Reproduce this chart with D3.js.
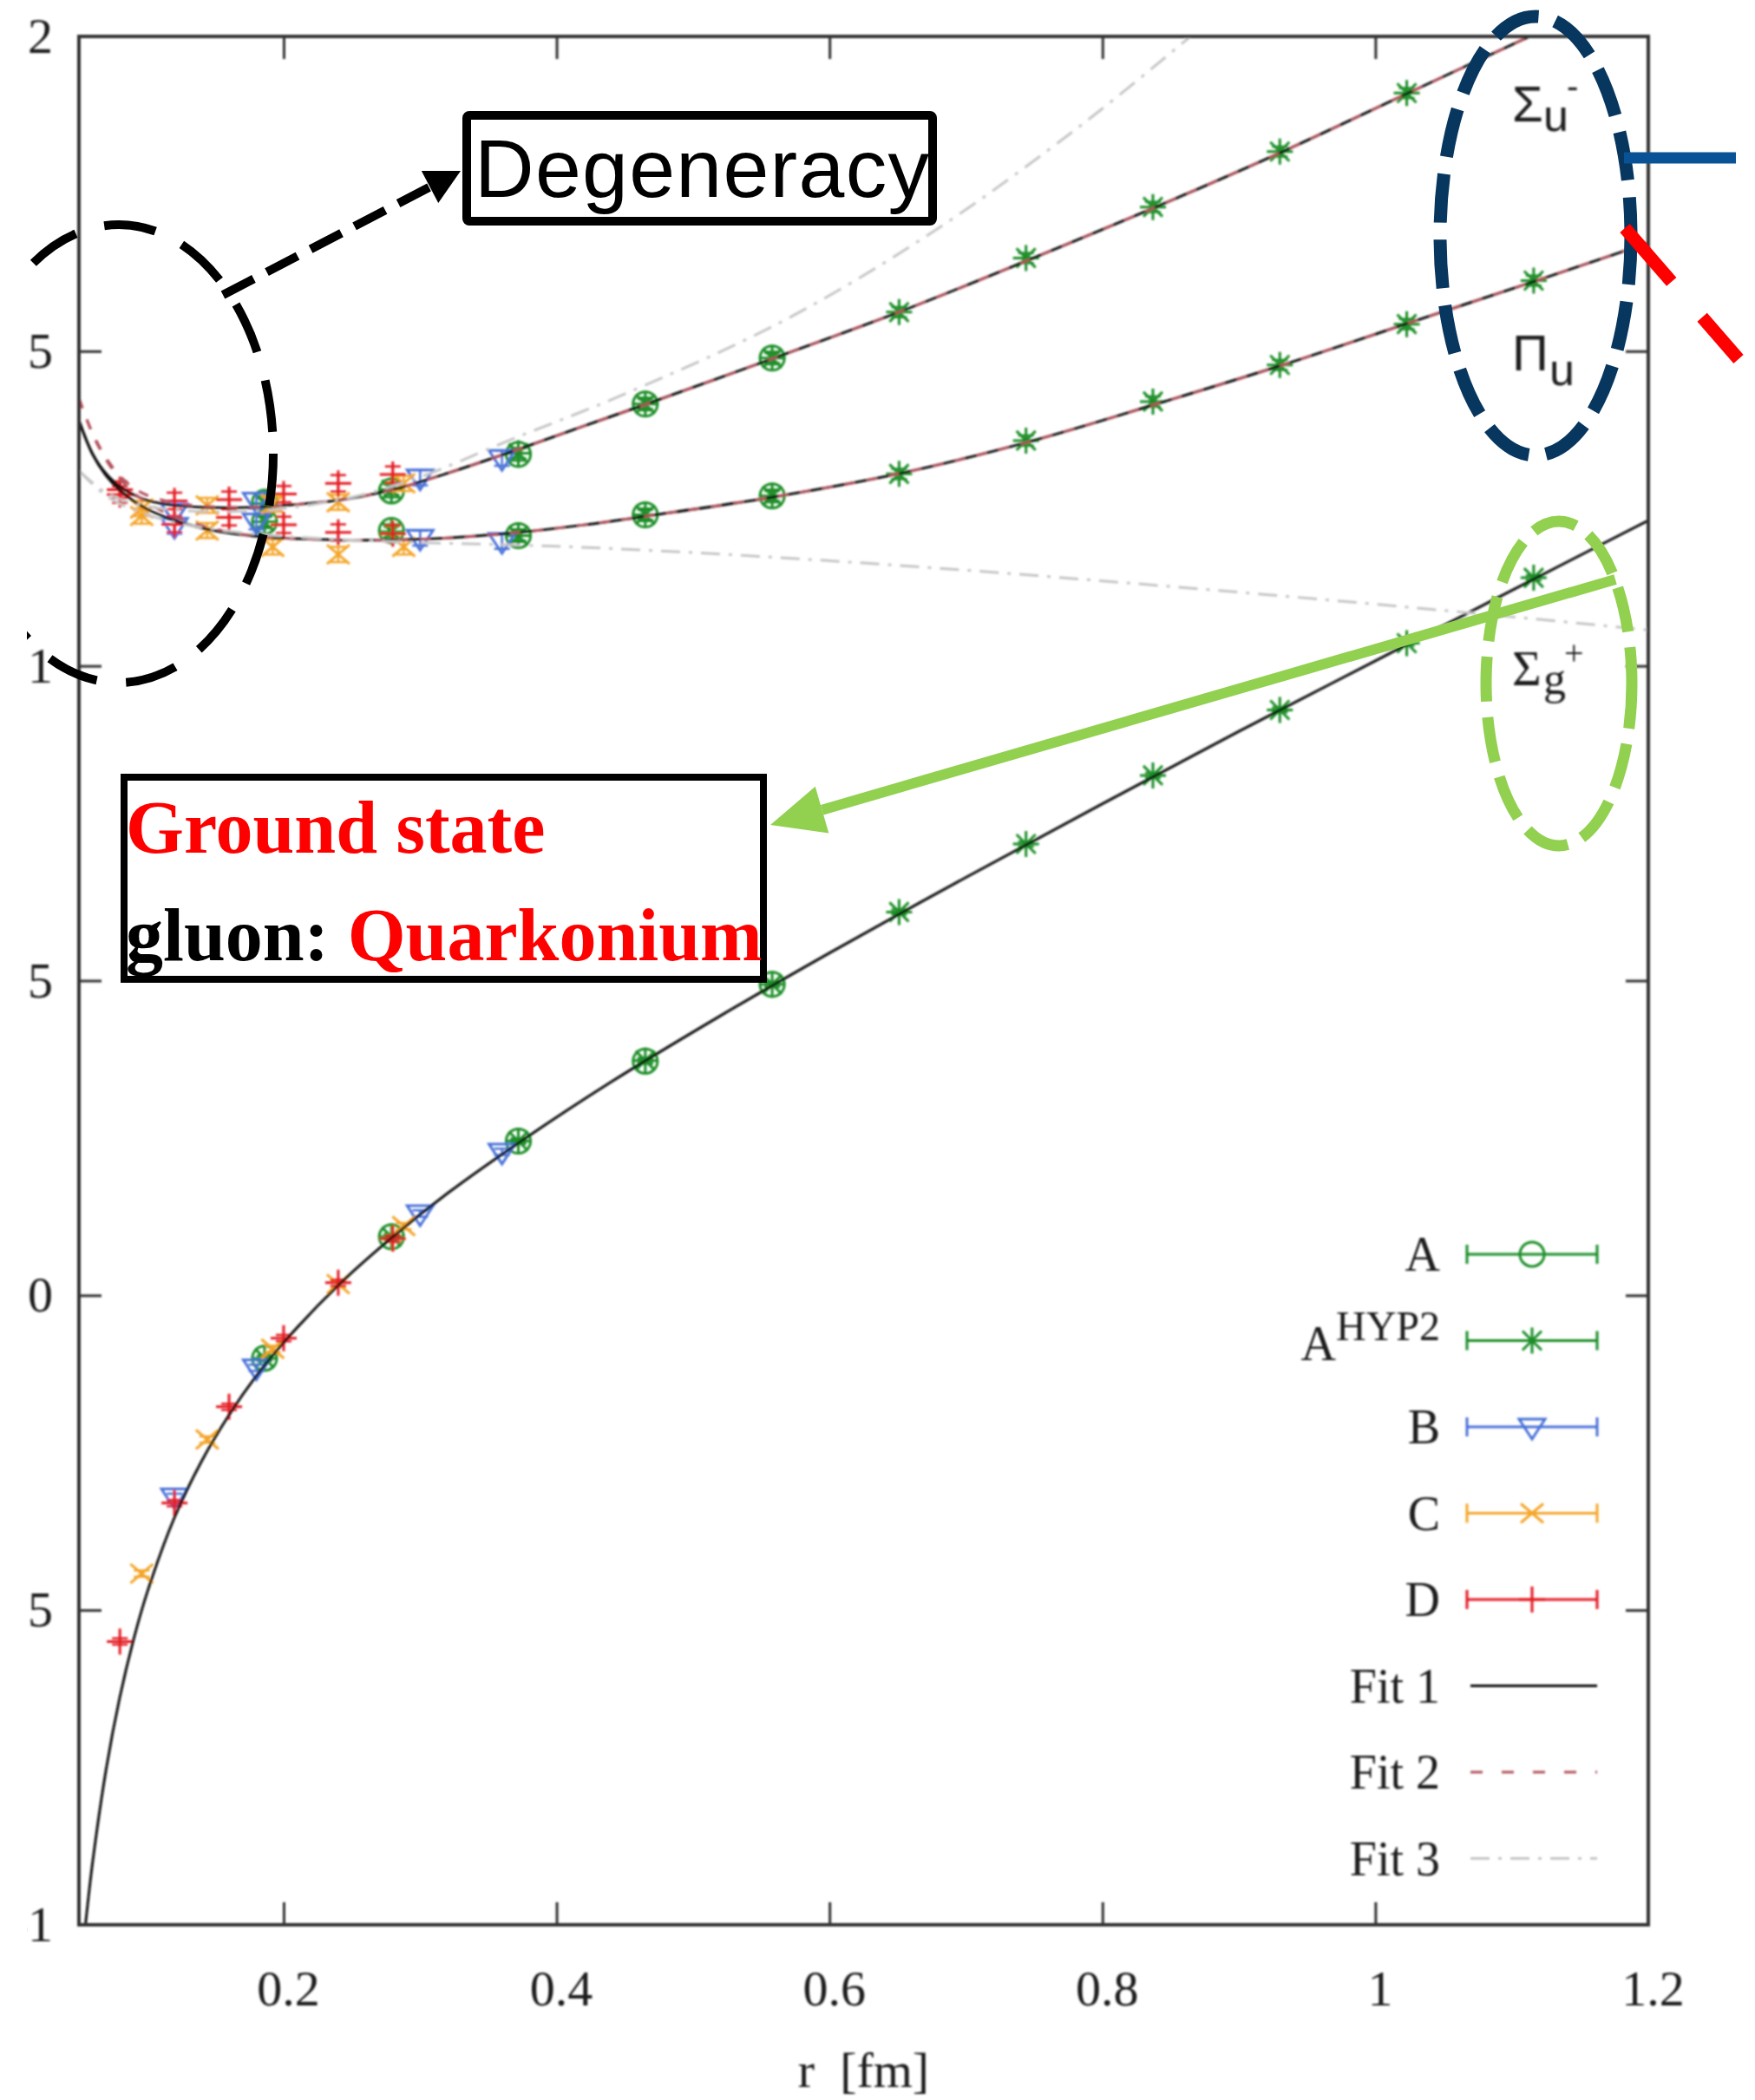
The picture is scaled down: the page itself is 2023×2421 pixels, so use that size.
<!DOCTYPE html>
<html>
<head>
<meta charset="utf-8">
<script src="https://cdnjs.cloudflare.com/ajax/libs/d3/7.8.5/d3.min.js"></script>
<style>
  html, body { margin: 0; padding: 0; background: #ffffff; }
  svg { display: block; }
</style>
</head>
<body>
<svg id="chart" width="2023" height="2421"></svg>
<script>
// ---------------- axis ticks ----------------
const xTicks = [0.2, 0.4, 0.6, 0.8, 1, 1.2];
const xTickLabels = ["0.2", "0.4", "0.6", "0.8", "1", "1.2"];
const yTicks = [-1, -0.5, 0, 0.5, 1, 1.5, 2];
const yTickLabels = ["-1", "-0.5", "0", "0.5", "1", "1.5", "2"];

// ---------------- lattice data: r [fm] and potentials ----------------
// ensemble A (open circles)
const rA      = [0.186, 0.279, 0.372, 0.465, 0.558];
const groundA = [-0.100, 0.093, 0.245, 0.372, 0.494];
const piA     = [1.229, 1.215, 1.207, 1.240, 1.270];
const sigmaA  = [1.260, 1.278, 1.336, 1.416, 1.489];

// ensemble A with HYP2 smearing (asterisks)
const rAH      = [0.186, 0.279, 0.372, 0.465, 0.558, 0.651, 0.744, 0.837, 0.930, 1.023, 1.116];
const groundAH = [-0.100, 0.093, 0.245, 0.373, 0.494, 0.609, 0.717, 0.826, 0.930, 1.036, 1.140];
const piAH     = [1.229, 1.213, 1.207, 1.240, 1.270, 1.305, 1.358, 1.420, 1.478, 1.543, 1.612];
const sigmaAH  = [1.258, 1.280, 1.338, 1.416, 1.489, 1.562, 1.648, 1.729, 1.817, 1.910, null];

// ensemble B (down triangles)
const rB      = [0.12, 0.18, 0.30, 0.36];
const groundB = [-0.320, -0.115, 0.130, 0.228];
const piB     = [1.222, 1.229, 1.203, 1.198];
const sigmaB  = [1.245, 1.262, 1.299, 1.330];

// ensemble C (crosses)
const rC      = [0.096, 0.144, 0.192, 0.240, 0.288];
const groundC = [-0.442, -0.229, -0.085, 0.018, 0.110];
const piC     = [1.238, 1.215, 1.189, 1.177, 1.189];
const sigmaC  = [1.250, 1.255, 1.257, 1.260, 1.290];

// ensemble D (plus signs)
const rD      = [0.08, 0.12, 0.16, 0.20, 0.24, 0.28];
const groundD = [-0.550, -0.330, -0.177, -0.068, 0.020, 0.090];
const piD     = [1.272, 1.225, 1.236, 1.224, 1.212, 1.210];
const sigmaD  = [1.280, 1.262, 1.264, 1.273, 1.290, 1.304];

// statistical errors, per ensemble: A, AHYP2, B, C, D
const groundErr = [0.004, 0.004, 0.005, 0.005, 0.005];
const hybridErr = [0.010, 0.008, 0.012, 0.012, 0.013];

// ---------------- fit curves [r, V] ----------------
const fit1Ground = [[0.0548,-1.000],[0.06,-0.901],[0.07,-0.752],[0.08,-0.638],[0.09,-0.547],[0.10,-0.472],
  [0.12,-0.353],[0.14,-0.263],[0.16,-0.190],[0.18,-0.128],[0.20,-0.075],[0.24,0.016],[0.28,0.093],
  [0.32,0.162],[0.37,0.239],[0.44,0.339],[0.52,0.444],[0.60,0.544],[0.70,0.664],[0.80,0.781],
  [0.90,0.896],[1.00,1.008],[1.10,1.120],[1.20,1.231]];
const fit1SigmaU = [[0.05,1.390],[0.06,1.337],[0.07,1.305],[0.08,1.285],[0.09,1.272],[0.10,1.263],
  [0.12,1.255],[0.14,1.252],[0.16,1.251],[0.18,1.252],[0.20,1.255],[0.24,1.263],[0.28,1.280],
  [0.32,1.306],[0.372,1.344],[0.42,1.381],[0.466,1.416],[0.558,1.488],[0.652,1.563],[0.746,1.645],
  [0.838,1.728],[0.932,1.817],[1.022,1.908],[1.118,2.005]];
const fit1PiU = [[0.05,1.390],[0.06,1.336],[0.07,1.302],[0.08,1.279],[0.09,1.262],[0.10,1.249],
  [0.12,1.231],[0.14,1.219],[0.16,1.211],[0.18,1.206],[0.20,1.203],[0.24,1.200],[0.28,1.200],
  [0.32,1.203],[0.372,1.212],[0.42,1.224],[0.466,1.238],[0.558,1.268],[0.652,1.306],[0.746,1.356],
  [0.838,1.415],[0.932,1.478],[1.022,1.543],[1.118,1.612],[1.20,1.672]];
const fit2SigmaU = [[0.05,1.425],[0.06,1.370],[0.07,1.330],[0.08,1.302],[0.09,1.283],[0.10,1.271],
  [0.12,1.259],[0.14,1.254],[0.16,1.252],[0.18,1.252],[0.20,1.255],[0.24,1.263],[0.28,1.280],
  [0.32,1.306],[0.372,1.344],[0.42,1.381],[0.466,1.416],[0.558,1.488],[0.652,1.563],[0.746,1.645],
  [0.838,1.728],[0.932,1.817],[1.022,1.908],[1.118,2.005]];
const fit2PiU = [[0.05,1.425],[0.06,1.368],[0.07,1.327],[0.08,1.297],[0.09,1.275],[0.10,1.259],
  [0.12,1.237],[0.14,1.223],[0.16,1.213],[0.18,1.206],[0.20,1.203],[0.24,1.200],[0.28,1.200],
  [0.32,1.203],[0.372,1.212],[0.42,1.224],[0.466,1.238],[0.558,1.268],[0.652,1.306],[0.746,1.356],
  [0.838,1.415],[0.932,1.478],[1.022,1.543],[1.118,1.612],[1.20,1.672]];
const fit3SigmaU = [[0.05,1.310],[0.07,1.275],[0.09,1.258],[0.12,1.248],[0.16,1.245],[0.20,1.250],
  [0.25,1.268],[0.30,1.300],[0.365,1.358],[0.45,1.432],[0.566,1.548],[0.676,1.690],[0.785,1.860],[0.87,2.010]];
const fit3PiU = [[0.05,1.310],[0.07,1.270],[0.09,1.248],[0.12,1.228],[0.16,1.214],[0.20,1.206],
  [0.25,1.200],[0.30,1.196],[0.40,1.190],[0.50,1.180],[0.60,1.167],[0.70,1.152],[0.80,1.135],
  [0.90,1.117],[1.00,1.098],[1.10,1.078],[1.20,1.057]];

// ---------------- legend ----------------
const legendLabels = ["A", "AHYP2", "B", "C", "D", "Fit 1", "Fit 2", "Fit 3"];

// ---------------- layout & styles ----------------
const W = 2023, H = 2421;
const plot = { left: 91, right: 1900, top: 42, bottom: 2219 };
const visibleLeft = 31;   // drawing area starts a little inside the page
const serif = "'Liberation Serif','Times New Roman',serif";
const sans = "'Liberation Sans',Arial,sans-serif";
const textCol = "#1c1c1c";
const axisCol = "#333333";
const green = "#1c8e28", blue = "#4a72d8", orange = "#f4a52a", red = "#e41b22";
const fit2Col = "#b4545e", fit3Col = "#c6c6c6";

const x = d3.scaleLinear().domain([0.05, 1.2]).range([plot.left, plot.right]);
const y = d3.scaleLinear().domain([-1, 2]).range([plot.bottom, plot.top]);

const svg = d3.select("#chart");
const defs = svg.append("defs");
defs.append("clipPath").attr("id", "plotClip").append("rect")
  .attr("x", plot.left).attr("y", plot.top)
  .attr("width", plot.right - plot.left).attr("height", plot.bottom - plot.top);
defs.append("clipPath").attr("id", "pageClip").append("rect")
  .attr("x", visibleLeft).attr("y", 0).attr("width", W - visibleLeft).attr("height", H);
defs.append("filter").attr("id", "soft")
  .attr("x", "-5%").attr("y", "-5%").attr("width", "110%").attr("height", "110%")
  .append("feGaussianBlur").attr("stdDeviation", 0.9);

svg.append("rect").attr("width", W).attr("height", H).attr("fill", "#ffffff");

const page = svg.append("g").attr("clip-path", "url(#pageClip)");
const chart = page.append("g").attr("filter", "url(#soft)");

// ---------------- axes (ticks point inward, mirrored) ----------------
function styleAxis(g) {
  g.select(".domain").remove();
  g.selectAll(".tick line").attr("stroke", axisCol).attr("stroke-width", 3);
  g.selectAll(".tick text").attr("fill", textCol)
    .style("font-family", serif).style("font-size", "58px");
}
chart.append("g").attr("transform", `translate(0,${plot.bottom})`)
  .call(d3.axisBottom(x).tickValues(xTicks).tickFormat((d, i) => xTickLabels[i])
    .tickSizeInner(-26).tickSizeOuter(0).tickPadding(52))
  .call(styleAxis)
  .call(g => g.selectAll(".tick text").attr("dx", 5));
chart.append("g").attr("transform", `translate(0,${plot.top})`)
  .call(d3.axisTop(x).tickValues(xTicks).tickFormat("").tickSizeInner(-26).tickSizeOuter(0))
  .call(styleAxis);
chart.append("g").attr("transform", `translate(${plot.left},0)`)
  .call(d3.axisLeft(y).tickValues(yTicks).tickFormat((d, i) => yTickLabels[i])
    .tickSizeInner(-26).tickSizeOuter(0).tickPadding(30))
  .call(styleAxis);
chart.append("g").attr("transform", `translate(${plot.right},0)`)
  .call(d3.axisRight(y).tickValues(yTicks).tickFormat("").tickSizeInner(-26).tickSizeOuter(0))
  .call(styleAxis);

chart.append("text")
  .attr("x", (plot.left + plot.right) / 2).attr("y", 2406)
  .attr("text-anchor", "middle").attr("fill", textCol)
  .style("font-family", serif).style("font-size", "58px").style("white-space", "pre")
  .text("r  [fm]");

// ---------------- markers ----------------
function markerPath(shape) {
  switch (shape) {
    case "circle":   return d3.symbol(d3.symbolCircle, 620)();
    case "asterisk": return "M-15,0H15M0,-15V15M-11,-11L11,11M-11,11L11,-11";
    case "triangle": return "M-15,-9L15,-9L0,14Z";
    case "cross":    return "M-13,-11L13,11M-13,11L13,-11";
    case "plus":     return "M-15,0H15M0,-15V15";
  }
}

const series = [
  { r: rA,  states: [groundA, piA, sigmaA],    color: green,  shape: "circle",   ie: 0 },
  { r: rAH, states: [groundAH, piAH, sigmaAH], color: green,  shape: "asterisk", ie: 1 },
  { r: rB,  states: [groundB, piB, sigmaB],    color: blue,   shape: "triangle", ie: 2 },
  { r: rC,  states: [groundC, piC, sigmaC],    color: orange, shape: "cross",    ie: 3 },
  { r: rD,  states: [groundD, piD, sigmaD],    color: red,    shape: "plus",     ie: 4 }
];

const plotArea = chart.append("g").attr("clip-path", "url(#plotClip)");

series.forEach(s => {
  const pts = [];
  s.states.forEach((vals, k) => {
    vals.forEach((v, i) => {
      if (v === null) return;
      pts.push({ r: s.r[i], v: v, e: k === 0 ? groundErr[s.ie] : hybridErr[s.ie] });
    });
  });
  const g = plotArea.append("g").attr("stroke", s.color).attr("fill", "none").attr("stroke-width", 3);
  const pt = g.selectAll("g.pt").data(pts).join("g").attr("class", "pt");
  // error bars with caps
  pt.append("path").attr("stroke-width", 2.5).attr("d", d => {
    const x0 = x(d.r), y1 = y(d.v + d.e), y2 = y(d.v - d.e);
    return `M${x0},${y1}V${y2}M${x0 - 9},${y1}H${x0 + 9}M${x0 - 9},${y2}H${x0 + 9}`;
  });
  pt.append("path").attr("d", markerPath(s.shape))
    .attr("transform", d => `translate(${x(d.r)},${y(d.v)})`);
});

// ---------------- fit curves ----------------
const line = d3.line().x(d => x(d[0])).y(d => y(d[1])).curve(d3.curveCatmullRom.alpha(0.5));
[fit1Ground, fit1PiU, fit1SigmaU].forEach(c =>
  plotArea.append("path").attr("d", line(c)).attr("fill", "none")
    .attr("stroke", "#111111").attr("stroke-width", 3));
[fit2PiU, fit2SigmaU].forEach(c =>
  plotArea.append("path").attr("d", line(c)).attr("fill", "none")
    .attr("stroke", fit2Col).attr("stroke-width", 3).attr("stroke-dasharray", "12 14"));
[fit3PiU, fit3SigmaU].forEach(c =>
  plotArea.append("path").attr("d", line(c)).attr("fill", "none")
    .attr("stroke", fit3Col).attr("stroke-width", 3).attr("stroke-dasharray", "22 10 4 10"));

// frame
chart.append("rect")
  .attr("x", plot.left).attr("y", plot.top)
  .attr("width", plot.right - plot.left).attr("height", plot.bottom - plot.top)
  .attr("fill", "none").attr("stroke", axisCol).attr("stroke-width", 4);

// ---------------- legend ----------------
const legend = chart.append("g");
const legX0 = 1691, legX1 = 1841, legXm = 1766, labelX = 1660;
legendLabels.forEach((lab, i) => {
  const ly = 1446 + i * 99.5;
  const t = legend.append("text").attr("x", labelX).attr("text-anchor", "end").attr("fill", textCol)
    .style("font-family", serif).style("font-size", "56px");
  if (lab === "AHYP2") {
    t.attr("y", ly + 22);
    t.append("tspan").text("A");
    t.append("tspan").attr("dy", -23).style("font-size", "48px").text("HYP2");
  } else {
    t.attr("y", ly + 19).text(lab);
  }
  if (i < 5) {
    const s = series[i];
    const g = legend.append("g").attr("stroke", s.color).attr("fill", "none").attr("stroke-width", 3);
    g.append("path").attr("d", `M${legX0},${ly}H${legX1}M${legX0},${ly - 11}V${ly + 11}M${legX1},${ly - 11}V${ly + 11}`);
    g.append("path").attr("d", markerPath(s.shape)).attr("transform", `translate(${legXm},${ly})`);
  } else {
    const styles = [["#111111", null], [fit2Col, "14 22"], [fit3Col, "22 10 4 10"]][i - 5];
    legend.append("path").attr("d", `M${legX0 + 4},${ly}H${legX1}`)
      .attr("stroke", styles[0]).attr("stroke-width", 3)
      .attr("stroke-dasharray", styles[1]);
  }
});

// state labels
function stateLabel(font, main, sub, sup, xPos, yBase, subDx, subDy, supPos) {
  const g = chart.append("g").attr("fill", textCol).style("font-family", font);
  g.append("text").attr("x", xPos).attr("y", yBase).style("font-size", "58px").text(main);
  g.append("text").attr("x", xPos + subDx).attr("y", yBase + subDy).style("font-size", "52px").text(sub);
  if (sup) g.append("text").attr("x", supPos[0]).attr("y", supPos[1]).style("font-size", "40px").text(sup);
}
stateLabel(sans, "\u03A3", "u", "-", 1743, 140, 36, 11, [1806, 113]);
stateLabel(sans, "\u03A0", "u", null, 1743, 427, 43, 17, null);
stateLabel(serif, "\u03A3", "g", "+", 1743, 790, 36, 10, [1803, 766]);

// ---------------- annotations ----------------
const notes = page.append("g");

function arrowHead(tip, from, len, half) {
  const dx = tip[0] - from[0], dy = tip[1] - from[1];
  const L = Math.hypot(dx, dy), ux = dx / L, uy = dy / L;
  const bx = tip[0] - ux * len, by = tip[1] - uy * len;
  return { base: [bx, by],
    pts: [tip, [bx - uy * half, by + ux * half], [bx + uy * half, by - ux * half]] };
}

// degeneracy circle and arrow
notes.append("ellipse").attr("cx", 137).attr("cy", 523).attr("rx", 178).attr("ry", 264)
  .attr("fill", "none").attr("stroke", "#000").attr("stroke-width", 10)
  .attr("stroke-dasharray", "60 34");
const aStart = [257, 340], aTip = [531, 197];
const ah = arrowHead(aTip, aStart, 40, 21);
notes.append("line").attr("x1", aStart[0]).attr("y1", aStart[1])
  .attr("x2", ah.base[0]).attr("y2", ah.base[1])
  .attr("stroke", "#000").attr("stroke-width", 10).attr("stroke-dasharray", "40 17");
notes.append("polygon").attr("points", ah.pts.map(p => p.join(",")).join(" ")).attr("fill", "#000");

notes.append("rect").attr("x", 538).attr("y", 133).attr("width", 537).attr("height", 122)
  .attr("rx", 3).attr("fill", "#fff").attr("stroke", "#000").attr("stroke-width", 10);
notes.append("text").attr("x", 547).attr("y", 227).attr("textLength", 524)
  .attr("fill", "#000").style("font-family", sans).style("font-size", "95px").text("Degeneracy");

// ground-state box
notes.append("rect").attr("x", 143).attr("y", 896).attr("width", 737).attr("height", 233)
  .attr("fill", "#fff").attr("stroke", "#000").attr("stroke-width", 8);
notes.append("text").attr("x", 145).attr("y", 983).attr("fill", "#ff0000")
  .style("font-family", serif).style("font-weight", "bold").style("font-size", "86px")
  .text("Ground state");
const gl = notes.append("text").attr("x", 145).attr("y", 1107)
  .style("font-family", serif).style("font-weight", "bold").style("font-size", "86px")
  .style("white-space", "pre");
gl.append("tspan").attr("fill", "#000").text("gluon: ");
gl.append("tspan").attr("fill", "#ff0000").text("Quarkonium");

// hybrid ellipse (navy) with outgoing pointers
notes.append("ellipse").attr("cx", 1770).attr("cy", 272).attr("rx", 110).attr("ry", 253)
  .attr("fill", "none").attr("stroke", "#07365f").attr("stroke-width", 15)
  .attr("stroke-dasharray", "56 20");
notes.append("line").attr("x1", 1872).attr("y1", 182).attr("x2", 2001).attr("y2", 182)
  .attr("stroke", "#0a5296").attr("stroke-width", 13);
notes.append("line").attr("x1", 1873).attr("y1", 263).attr("x2", 2004).attr("y2", 414)
  .attr("stroke", "#ff0000").attr("stroke-width", 15).attr("stroke-dasharray", "82 54");

// ground-state ellipse (green) with arrow to the box
notes.append("ellipse").attr("cx", 1797).attr("cy", 788).attr("rx", 84).attr("ry", 187)
  .attr("fill", "none").attr("stroke", "#92d050").attr("stroke-width", 13)
  .attr("stroke-dasharray", "52 18");
const gStart = [1862, 668], gTip = [888, 951];
const gh = arrowHead(gTip, gStart, 62, 28);
notes.append("line").attr("x1", gStart[0]).attr("y1", gStart[1])
  .attr("x2", gh.base[0]).attr("y2", gh.base[1])
  .attr("stroke", "#92d050").attr("stroke-width", 12);
notes.append("polygon").attr("points", gh.pts.map(p => p.join(",")).join(" ")).attr("fill", "#92d050");
</script>
</body>
</html>
